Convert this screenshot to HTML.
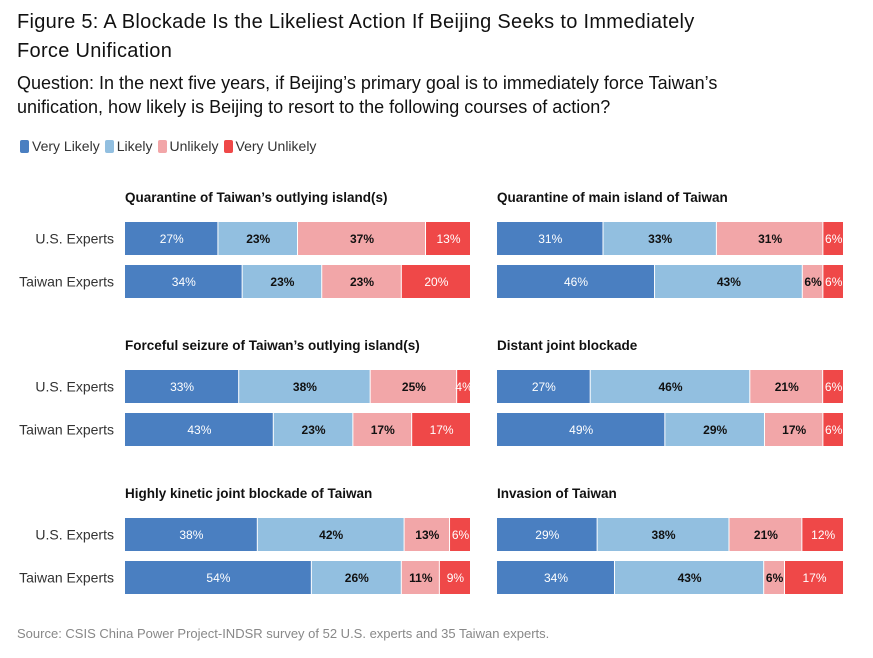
<!DOCTYPE html>
<html><head><meta charset="utf-8"><style>
body{margin:0;background:#fff;width:873px;height:658px;overflow:hidden;font-family:"Liberation Sans",sans-serif;}
.t{position:absolute;white-space:nowrap;}
</style></head><body>
<div class="t" style="left:17px;top:8px;font-size:20px;line-height:29px;color:#111;letter-spacing:0.3px">Figure 5: A Blockade Is the Likeliest Action If Beijing Seeks to Immediately<br>Force Unification</div>
<div class="t" style="left:17px;top:71px;font-size:18px;line-height:24px;color:#111">Question: In the next five years, if Beijing’s primary goal is to immediately force Taiwan’s<br>unification, how likely is Beijing to resort to the following courses of action?</div>
<div class="t" style="left:20px;top:138px;font-size:14px;color:#333;display:flex;align-items:center">
<span style="display:flex;align-items:center;margin-right:5px"><i style="display:inline-block;width:9px;height:13px;background:#4a7fc1;border-radius:2px;margin-right:3px"></i>Very Likely</span>
<span style="display:flex;align-items:center;margin-right:5px"><i style="display:inline-block;width:9px;height:13px;background:#92bfe0;border-radius:2px;margin-right:3px"></i>Likely</span>
<span style="display:flex;align-items:center;margin-right:5px"><i style="display:inline-block;width:9px;height:13px;background:#f2a6a8;border-radius:2px;margin-right:3px"></i>Unlikely</span>
<span style="display:flex;align-items:center"><i style="display:inline-block;width:9px;height:13px;background:#ef4848;border-radius:2px;margin-right:3px"></i>Very Unlikely</span>
</div>
<svg id="chart" width="873" height="658" style="position:absolute;left:0;top:0"></svg>
<div class="t" style="left:17px;top:626px;font-size:13px;color:#888">Source: CSIS China Power Project-INDSR survey of 52 U.S. experts and 35 Taiwan experts.</div>
<script>
const panelTitles=["Quarantine of Taiwan’s outlying island(s)","Quarantine of main island of Taiwan","Forceful seizure of Taiwan’s outlying island(s)","Distant joint blockade","Highly kinetic joint blockade of Taiwan","Invasion of Taiwan"];
const groups=["U.S. Experts","Taiwan Experts"];
const usValues=[[27,23,37,13],[31,33,31,6],[33,38,25,4],[27,46,21,6],[38,42,13,6],[29,38,21,12]];
const twValues=[[34,23,23,20],[46,43,6,6],[43,23,17,17],[49,29,17,6],[54,26,11,9],[34,43,6,17]];
const categories=["Very Likely","Likely","Unlikely","Very Unlikely"];
const colors=["#4a7fc1","#92bfe0","#f2a6a8","#ef4848"];
const textColors=["#fff","#111","#111","#fff"];
const NS="http://www.w3.org/2000/svg";
const svg=document.getElementById('chart');
function mk(tag,attrs){const e=document.createElementNS(NS,tag);for(const k in attrs)e.setAttribute(k,attrs[k]);return e;}
const colX=[125,497], barW=[346,347], rowTop=[180,328,476];
panelTitles.forEach((title,p)=>{
  const c=p%2, r=Math.floor(p/2), x0=colX[c], w=barW[c], top=rowTop[r];
  const tt=mk('text',{x:x0,y:top+22,'font-size':13.5,'font-weight':'bold',fill:'#111'});
  
  
  tt.textContent=title;svg.appendChild(tt);
  [usValues[p],twValues[p]].forEach((vals,g)=>{
    const y=top+42+g*43, h=33;
    if(c===0){
      const lb=mk('text',{x:114,y:y+h/2+5,'font-size':14,fill:'#333','text-anchor':'end'});
      
      
      lb.textContent=groups[g];svg.appendChild(lb);
    }
    const sum=vals.reduce((a,b)=>a+b,0);
    let cx=x0;
    vals.forEach((v,i)=>{
      const sw=v/sum*w;
      const rc=mk('rect',{x:cx,y:y,width:Math.max(sw-1,0),height:h,fill:colors[i]});
      
      
      svg.appendChild(rc);
      const tx=mk('text',{x:cx+sw/2,y:y+h/2+4.5,'font-size':12,fill:textColors[i],'text-anchor':'middle','font-weight':(i===1||i===2)?'bold':'normal'});
      
      
      tx.textContent=v+'%';svg.appendChild(tx);
      cx+=sw;
    });
  });
});
</script>
</body></html>
